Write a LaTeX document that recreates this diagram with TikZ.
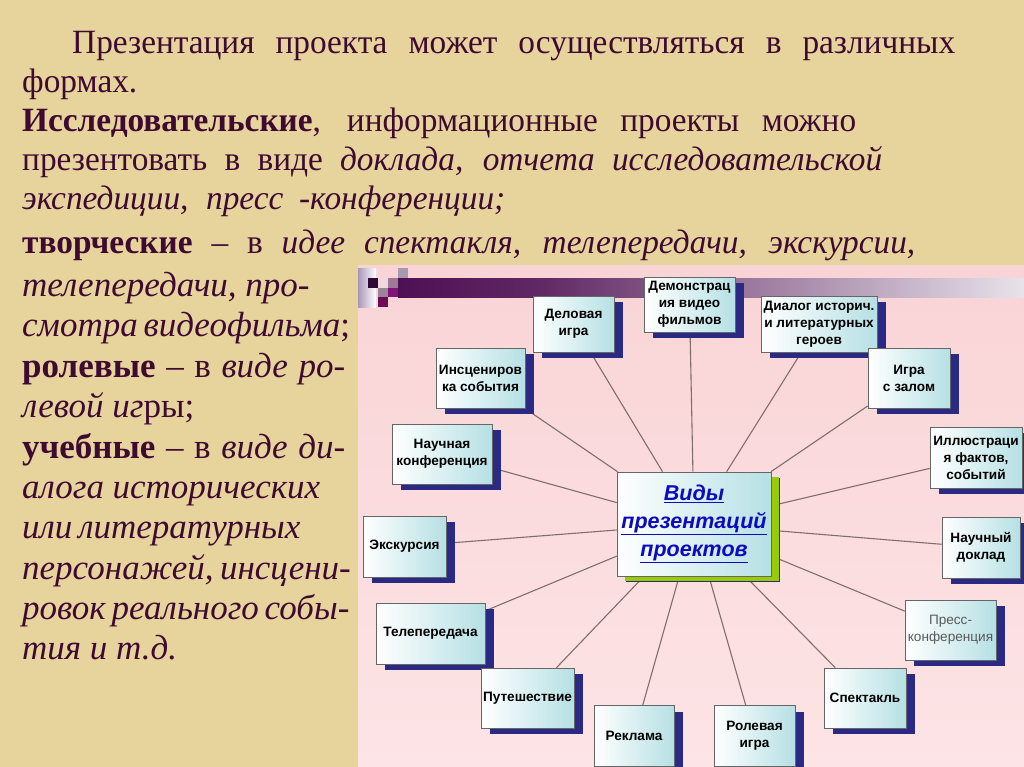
\documentclass[tikz,border=0pt]{standalone}
\usepackage{fontspec}
\setmainfont{Liberation Serif}
\newfontfamily\narrowserif[FakeStretch=0.98,Ligatures=TeX]{Liberation Serif}
\newfontfamily\boxfont{Liberation Sans}
\usepackage{xcolor}
\usepackage{tikz}
\usetikzlibrary{shadows}

\definecolor{parchment}{RGB}{231,212,157}
\definecolor{panelpink}{RGB}{249,212,214}
\definecolor{panelpinklight}{RGB}{253,228,230}
\definecolor{inkplum}{RGB}{62,10,50}
\definecolor{boxcyan}{RGB}{182,224,228}
\definecolor{shadownavy}{RGB}{42,42,132}
\definecolor{limeshadow}{RGB}{153,204,0}
\definecolor{spokegray}{RGB}{128,110,110}
\definecolor{barplum}{RGB}{78,16,84}
\definecolor{barmid}{RGB}{96,40,100}
\definecolor{barlight}{RGB}{232,226,234}
\definecolor{linkblue}{RGB}{12,12,190}
\definecolor{tilelav}{RGB}{168,152,184}
\definecolor{tiledark}{RGB}{46,8,54}
\definecolor{tilepale}{RGB}{240,216,224}
\definecolor{tilemauve}{RGB}{156,132,152}
\definecolor{tilerose}{RGB}{160,120,152}
\definecolor{tilemagenta}{RGB}{128,20,120}
\definecolor{tilegrey}{RGB}{168,152,176}
\definecolor{tilewine}{RGB}{108,12,88}

\pgfdeclarelayer{back}
\pgfdeclarelayer{spokes}
\pgfsetlayers{back,spokes,main}

\newcommand\jline[2]{\makebox[#1pt][s]{#2}}

\tikzset{
  txt/.style={anchor=base west, inner sep=0pt, text=inkplum},
  toptxt/.style={txt, font=\narrowserif\fontsize{34}{40}\selectfont},
  sidetxt/.style={txt, font=\fontsize{35}{41}\selectfont},
  kind/.style={draw=black!60, line width=0.6pt, left color=white, right color=boxcyan,
    align=center, inner sep=2pt, font=\boxfont\bfseries\fontsize{13.6}{17}\selectfont,
    drop shadow={shadow xshift=9pt, shadow yshift=-6pt, fill=shadownavy, opacity=1}},
  hub/.style={kind, minimum width=154pt, minimum height=104pt, text=linkblue,
    font=\boxfont\bfseries\itshape\fontsize{21.5}{28}\selectfont,
    drop shadow={shadow xshift=8pt, shadow yshift=-5pt, fill=limeshadow, opacity=1}},
  spoke/.style={draw=spokegray, line width=1.1pt}
}

\begin{document}
\begin{tikzpicture}[x=1pt, y=-1pt]
    \useasboundingbox (0,0) rectangle (1024,767);
    \begin{pgfonlayer}{back}
        \fill[parchment] (0,0) rectangle (1024,767);
        \shade[top color=panelpink, bottom color=panelpinklight] (358,265) rectangle (1024,767);
        \shade[left color=barplum, right color=barmid] (398,278) rectangle (540,297);
        \shade[left color=barmid, right color=barlight] (540,278) rectangle (1024,297);
        \shade[left color=tilelav, right color=white] (358,268) rectangle (376,307);
        \fill[tiledark] (368,278) rectangle (378,288);
        \fill[tilepale] (378,278) rectangle (388,288);
        \fill[tilemauve] (378,288) rectangle (388,297);
        \fill[tilerose] (388,278) rectangle (398,288);
        \fill[tilemagenta] (388,288) rectangle (398,297);
        \fill[tilegrey] (398,268) rectangle (408,278);
        \fill[tilewine] (378,297) rectangle (388,307);
    \end{pgfonlayer}

    \node[toptxt] (t1) at (72,54) {\jline{883}{Презентация проекта может осуществляться в различных}};
    \node[toptxt] (t2) at (22,93) {формах.};
    \node[toptxt] (t3) at (22,132) {\jline{834}{\textbf{Исследовательские}, информационные проекты можно}};
    \node[toptxt] (t4) at (22,171) {\jline{860}{презентовать в виде \textit{доклада, отчета исследовательской}}};
    \node[toptxt] (t5) at (22,210) {\jline{483}{\textit{экспедиции, пресс -конференции;}}};
    \node[toptxt] (t6) at (22,253) {\jline{893}{\textbf{творческие} – в \textit{идее спектакля, телепередачи, экскурсии,}}};

    \node[sidetxt] (s1) at (22,296) {\textit{телепередачи, про-}};
    \node[sidetxt] (s2) at (22,336) {\jline{323}{\textit{смотра видеофильма};}};
    \node[sidetxt] (s3) at (22,377) {\jline{323}{\textbf{ролевые} – в \textit{виде ро-}}};
    \node[sidetxt] (s4) at (22,417) {\textit{левой иг}ры;};
    \node[sidetxt] (s5) at (22,458) {\jline{323}{\textbf{учебные} – в \textit{виде ди-}}};
    \node[sidetxt] (s6) at (22,498) {\jline{298}{\textit{алога исторических}}};
    \node[sidetxt] (s7) at (22,538) {\jline{278}{\textit{или литературных}}};
    \node[sidetxt] (s8) at (22,579) {\jline{323}{\textit{персонажей, инсцени-}}};
    \node[sidetxt] (s9) at (22,619) {\jline{323}{\textit{ровок реального собы-}}};
    \node[sidetxt] (s10) at (22,659) {\textit{тия и т.д.}};

    \node[hub] (hub) at (694,524) {\underline{Виды}\\\underline{презентаций}\\\underline{проектов}};

    \foreach \n/\x/\y/\w/\h/\t in {
        delo/573.5/324/81/56/{Деловая\\игра},
        demo/689.5/304.5/91/55/{Демонстрац\\ия видео\\фильмов},
        dialog/819/324/116/56/{Диалог историч.\\и литературных\\героев},
        insc/480.5/378/89/60/{Инсцениров\\ка события},
        igra/909/378/82/60/{Игра\\с залом},
        nconf/442/454/100/60/{Научная\\конференция},
        illus/976/457.5/92/61/{Иллюстраци\\я фактов,\\событий},
        ekskurs/404.5/546.5/83/61/{Экскурсия},
        ndokl/981/547.5/78/61/{Научный\\доклад},
        tele/430.5/633.5/109/61/{Телепередача},
        putesh/527.5/698/91/60/{Путешествие},
        reklama/634/736/80/61/{Реклама},
        rolev/754.5/736/81/61/{Ролевая\\игра},
        spekt/865/698/82/60/{Спектакль}} {
        \node[kind, minimum width=\w pt, minimum height=\h pt] (\n) at (\x,\y) {\t};
    }
    \node[kind, minimum width=91pt, minimum height=60pt, text=black!65,
        font=\boxfont\fontsize{13.6}{17}\selectfont] (press) at (950.5,630) {Пресс-\\конференция};

    \begin{pgfonlayer}{spokes}
        \foreach \n in {delo,demo,dialog,insc,igra,nconf,illus,ekskurs,ndokl,tele,putesh,reklama,rolev,spekt,press}
            \draw[spoke] (hub) -- (\n);
    \end{pgfonlayer}
\end{tikzpicture}
\end{document}
